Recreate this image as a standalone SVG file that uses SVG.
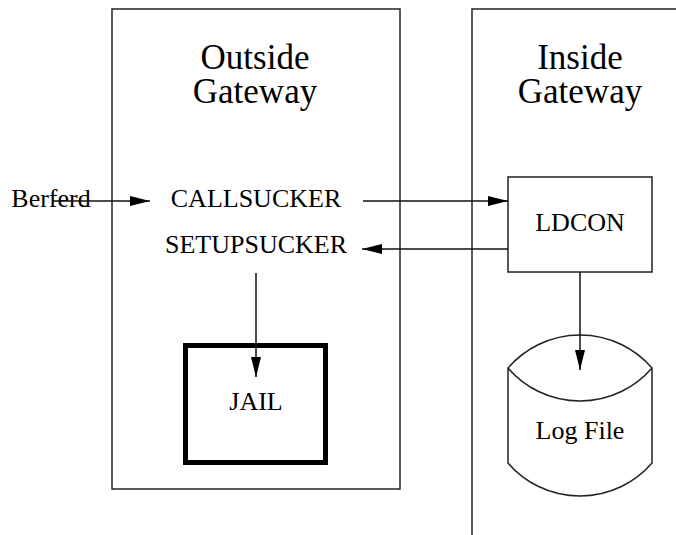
<svg xmlns="http://www.w3.org/2000/svg" width="676" height="535" viewBox="0 0 676 535">
<style>
.box{fill:none;stroke:#222;stroke-width:1.5}
.t{font-family:"Liberation Serif","Times New Roman",serif;fill:#000;text-anchor:middle}
.title{font-size:35px}
.lbl{font-size:26px}
.c{stroke:#111;stroke-width:1.5;fill:none;marker-end:url(#ah)}
</style>
<defs>
<marker id="ah" markerWidth="20" markerHeight="10" refX="20" refY="5" orient="auto" markerUnits="userSpaceOnUse">
<path d="M0,0 L20,5 L0,10 z" fill="#000"/>
</marker>
</defs>
<rect width="676" height="535" fill="#fff"/>
<g id="outside-gateway">
<rect class="box" x="112" y="9" width="288" height="480"/>
<text class="t title" x="255" y="69">Outside</text>
<text class="t title" x="255" y="103">Gateway</text>
</g>
<g id="inside-gateway">
<path class="box" d="M472,540 V9 H690"/>
<text class="t title" x="580" y="69">Inside</text>
<text class="t title" x="580" y="103">Gateway</text>
</g>
<g id="berferd">
<text class="t lbl" x="51" y="207">Berferd</text>
</g>
<g id="callsucker">
<text class="t lbl" x="256" y="207">CALLSUCKER</text>
</g>
<g id="setupsucker">
<text class="t lbl" x="256" y="253">SETUPSUCKER</text>
</g>
<g id="jail">
<rect x="185.5" y="345.5" width="140" height="117" fill="none" stroke="#000" stroke-width="5"/>
<text class="t lbl" x="256" y="410">JAIL</text>
</g>
<g id="ldcon">
<rect class="box" x="508" y="177" width="144" height="95"/>
<text class="t lbl" x="580" y="231">LDCON</text>
</g>
<g id="logfile">
<path class="box" d="M508,368 A95,95 0 0 1 652,368 A95,95 0 0 1 508,368 Z M508,368 V463 A95,95 0 0 0 652,463 V368"/>
<text class="t lbl" x="580" y="439">Log File</text>
</g>
<g id="connectors">
<line class="c" x1="53" y1="201" x2="150" y2="201"/>
<line class="c" x1="363" y1="201" x2="508" y2="201"/>
<line class="c" x1="508" y1="249" x2="362" y2="249"/>
<line class="c" x1="256" y1="273" x2="256" y2="377"/>
<line class="c" x1="580" y1="272" x2="580" y2="370"/>
</g>
</svg>
